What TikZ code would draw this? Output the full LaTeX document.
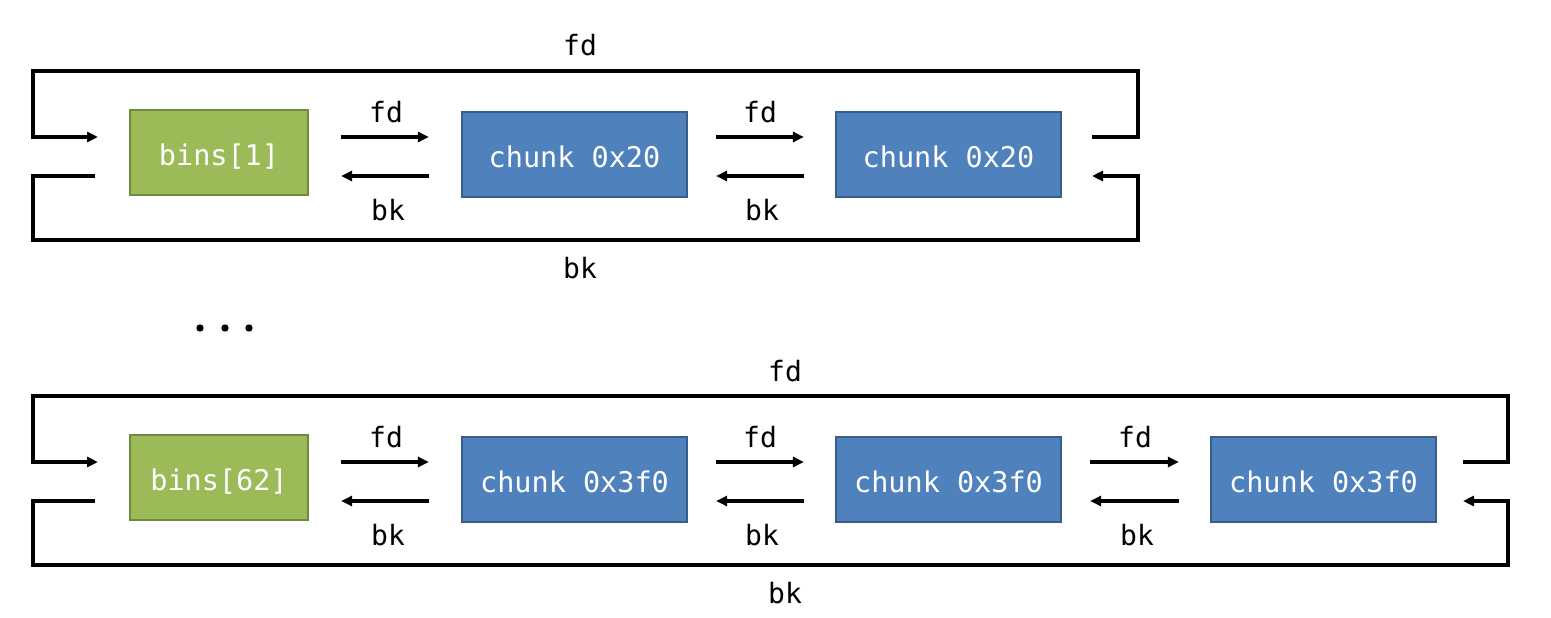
\documentclass[tikz,border=0pt]{standalone}
\usepackage{fontspec}
\newfontfamily\monof{DejaVu Sans Mono}
\usetikzlibrary{arrows.meta,calc}
\definecolor{gfill}{HTML}{9BBB59}
\definecolor{gdraw}{HTML}{71893F}
\definecolor{bfill}{HTML}{4F81BD}
\definecolor{bdraw}{HTML}{385D8A}
\tikzset{
  lbl/.style={font=\monof\fontsize{28}{32}\selectfont, text=black, inner sep=0pt, anchor=base},
  gbox/.style={draw=gdraw, fill=gfill, line width=2.2pt, minimum width=178pt, minimum height=85pt, text height=25pt, text depth=0pt, text=white, font=\monof\fontsize{28.5}{32}\selectfont},
  bbox/.style={draw=bdraw, fill=bfill, line width=2.2pt, minimum width=225pt, minimum height=85pt, text height=25pt, text depth=0pt, text=white, font=\monof\fontsize{28.5}{32}\selectfont},
  arr/.style={draw=black, line width=3.2pt, -{Triangle[length=11pt,width=10pt]}},
}
\begin{document}
\begin{tikzpicture}[x=1pt,y=-1pt]
\useasboundingbox (0,0) rectangle (1551,618);
% ---------- top row ----------
\node[gbox] (b1) at (219,152.5) {bins[1]};
\node[bbox] (c1) at (574.5,154.5) {chunk 0x20};
\node[bbox] (c2) at (948.5,154.5) {chunk 0x20};
% inner arrows
\draw[arr] ($(b1.east)+(32,-15.5)$) -- ($(c1.west)+(-32,-17.5)$);
\draw[arr] ($(c1.west)+(-32,21.5)$) -- ($(b1.east)+(32,23.5)$);
\draw[arr] ($(c1.east)+(28,-17.5)$) -- ($(c2.west)+(-31,-17.5)$);
\draw[arr] ($(c2.west)+(-31,21.5)$) -- ($(c1.east)+(28,21.5)$);
\node[lbl] (fa1) at (386,122) {fd};
\node[lbl] (ka1) at (388,220) {bk};
\node[lbl] (fa2) at (760,122) {fd};
\node[lbl] (ka2) at (762,220) {bk};
% outer loops
\coordinate (fdin1) at (98,137);
\coordinate (fdout1) at (1092,137);
\coordinate (bkin1) at (1092,176);
\coordinate (bkout1) at (95,176);
\draw[arr] (fdout1) -- (1138,137) -- (1138,71) -- (33,71) -- (33,137) -- (fdin1);
\draw[arr] (bkout1) -- (33,176) -- (33,240) -- (1138,240) -- (1138,176) -- (bkin1);
\node[lbl] (ft1) at (580,56) {fd};
\node[lbl] (kt1) at (580,278) {bk};
% dots
\fill (200,328) circle (3.7pt) (225,328) circle (3.7pt) (249,328) circle (3.7pt);
% ---------- bottom row ----------
\node[gbox] (b2) at (219,477.5) {bins[62]};
\node[bbox] (d1) at (574.5,479.5) {chunk 0x3f0};
\node[bbox] (d2) at (948.5,479.5) {chunk 0x3f0};
\node[bbox] (d3) at (1323.5,479.5) {chunk 0x3f0};
\draw[arr] ($(b2.east)+(32,-15.5)$) -- ($(d1.west)+(-32,-17.5)$);
\draw[arr] ($(d1.west)+(-32,21.5)$) -- ($(b2.east)+(32,23.5)$);
\draw[arr] ($(d1.east)+(28,-17.5)$) -- ($(d2.west)+(-31,-17.5)$);
\draw[arr] ($(d2.west)+(-31,21.5)$) -- ($(d1.east)+(28,21.5)$);
\draw[arr] ($(d2.east)+(28,-17.5)$) -- ($(d3.west)+(-31,-17.5)$);
\draw[arr] ($(d3.west)+(-31,21.5)$) -- ($(d2.east)+(28,21.5)$);
\node[lbl] (fb1) at (386,447) {fd};
\node[lbl] (kb1) at (388,545) {bk};
\node[lbl] (fb2) at (760,447) {fd};
\node[lbl] (kb2) at (762,545) {bk};
\node[lbl] (fb3) at (1135,447) {fd};
\node[lbl] (kb3) at (1137,545) {bk};
\coordinate (fdin2) at (98,462);
\coordinate (fdout2) at (1463,462);
\coordinate (bkin2) at (1463,501);
\coordinate (bkout2) at (95,501);
\draw[arr] (fdout2) -- (1508,462) -- (1508,396) -- (33,396) -- (33,462) -- (fdin2);
\draw[arr] (bkout2) -- (33,501) -- (33,565) -- (1508,565) -- (1508,501) -- (bkin2);
\node[lbl] (ft2) at (785,381) {fd};
\node[lbl] (kt2) at (785,603) {bk};
\end{tikzpicture}
\end{document}
